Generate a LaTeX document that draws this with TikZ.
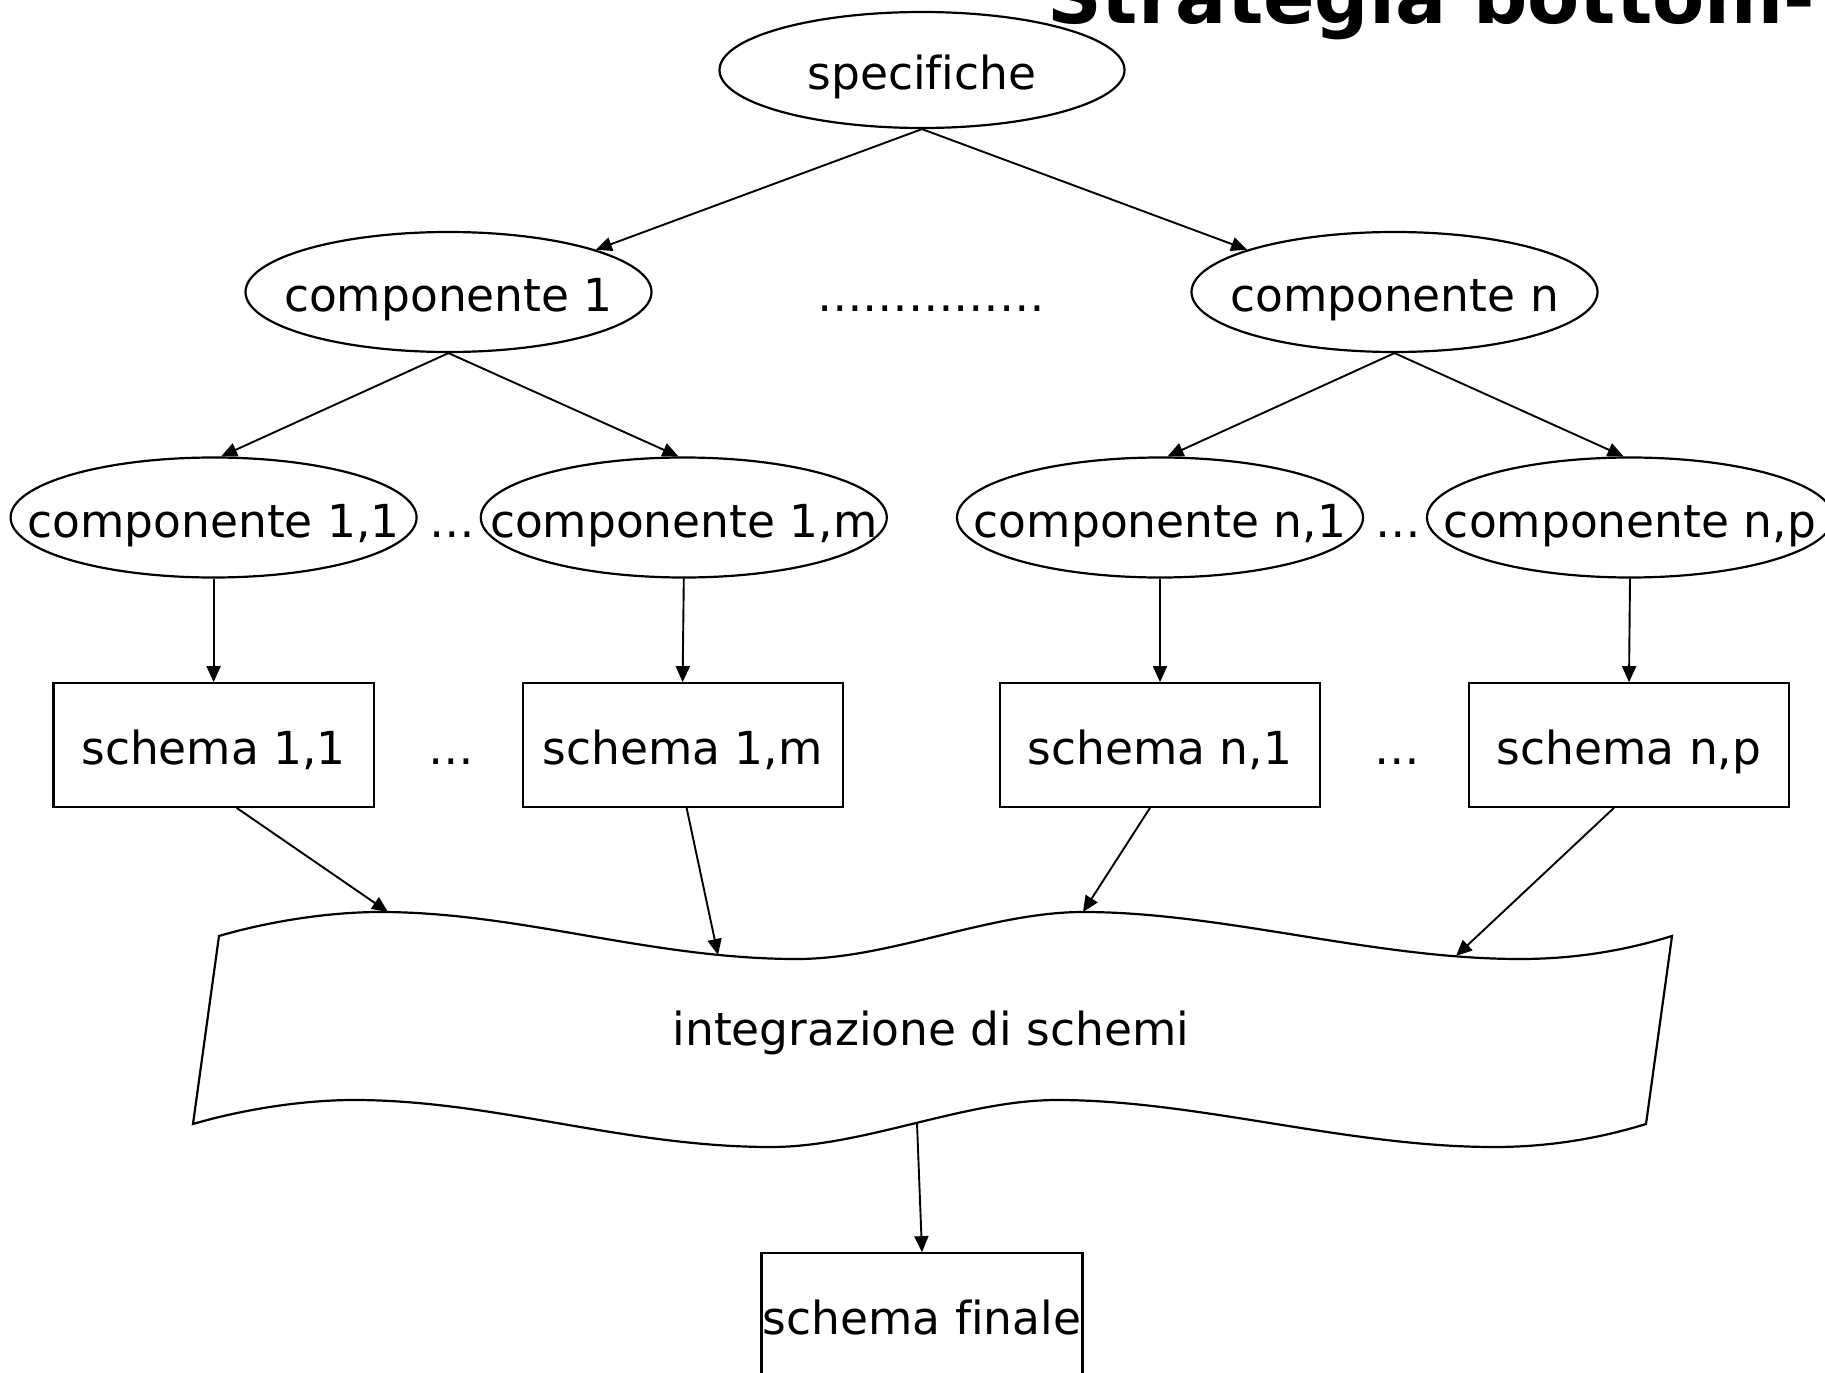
\documentclass[tikz,border=0pt]{standalone}
\usepackage{fontspec}
\setmainfont{DejaVu Sans}[Ligatures=NoCommon]
\usetikzlibrary{arrows.meta,shapes.geometric}
\begin{document}
\begin{tikzpicture}[x=1bp,y=-1bp,
  every node/.style={font=\fontsize{45.5bp}{54bp}\selectfont, inner sep=0pt,
    text height=39bp, text depth=0bp},
  oval/.style={draw, ellipse, line width=2.2bp, minimum width=406bp, minimum height=120bp},
  box/.style={draw, rectangle, line width=2.2bp, minimum width=320bp, minimum height=123.5bp},
  link/.style={line width=1.9bp, -{Triangle[length=16bp,width=14bp]}},
  ghost/.style={text height=, text depth=}]
\useasboundingbox (0,0) rectangle (1825,1373);
\clip (0,0) rectangle (1825,1373);

% heading, partly off the page
\node[ghost, anchor=base west, font=\fontsize{76bp}{80bp}\selectfont\bfseries]
  (title) at (1047,24) {Strategia bottom-};

% requirements and first-level components
\node[oval, minimum width=405bp, minimum height=116bp] (spec) at (922,70) {\makebox[0pt]{specifiche}};
\node[oval] (c1) at (448.5,292) {\makebox[0pt]{componente 1}};
\node[oval] (cn) at (1394.5,292) {\makebox[0pt]{componente n}};
\node (dtop) at (931,292) {\makebox[0pt]{……………}};

% second-level components
\node[oval] (c11) at (213.6,517.5) {\makebox[0pt]{componente 1,1}};
\node[oval] (c1m) at (683.8,517.5) {\makebox[0pt]{componente 1,m}};
\node[oval] (cn1) at (1160,517.5) {\makebox[0pt]{componente n,1}};
\node[oval] (cnp) at (1630,517.5) {\makebox[0pt]{componente n,p}};
\node (dmid1) at (452,517.5) {…};
\node (dmid2) at (1398,517.5) {…};

% partial schemas
\node[box] (s11) at (213.6,745) {schema 1,1};
\node[box] (s1m) at (682.6,745) {schema 1,m};
\node[box] (sn1) at (1160,745) {schema n,1};
\node[box] (snp) at (1629,745) {schema n,p};
\node (dlow1) at (451,745) {…};
\node (dlow2) at (1397,745) {…};

% integration step: wavy banner
\draw[line width=2.2bp] (219,936) .. controls (270,921) and (330,912) .. (380,912)
  .. controls (520,912) and (650,959) .. (797,959)
  .. controls (890,959) and (990,912) .. (1083,912)
  .. controls (1223,912) and (1373,959) .. (1520,959)
  .. controls (1570,959) and (1620,952) .. (1672,936)
  -- (1646,1124)
  .. controls (1594,1140) and (1544,1147) .. (1494,1147)
  .. controls (1347,1147) and (1197,1100) .. (1057,1100)
  .. controls (964,1100) and (864,1147) .. (771,1147)
  .. controls (624,1147) and (494,1100) .. (354,1100)
  .. controls (304,1100) and (244,1109) .. (193,1124)
  -- cycle;
\node[ghost, anchor=base] (integ) at (931,1045) {integrazione di schemi};
\coordinate (w1) at (388,912);
\coordinate (w2) at (718,955);
\coordinate (w3) at (1083,912);
\coordinate (w4) at (1456,956);
\coordinate (wb) at (917,1123);

% final schema
\node[box, minimum width=321bp] (fin) at (922,1315) {schema finale};

% connectors
\draw[link] (spec.south) -- (c1.16);
\draw[link] (spec.south) -- (cn.164);
\draw[link] (c1.south) -- (c11.83);
\draw[link] (c1.south) -- (c1m.95);
\draw[link] (cn.south) -- (cn1.83);
\draw[link] (cn.south) -- (cnp.96);
\draw[link] (c11.south) -- (s11.north);
\draw[link] (c1m.south) -- (s1m.north);
\draw[link] (cn1.south) -- (sn1.north);
\draw[link] (cnp.south) -- (snp.north);
\draw[link] ([xshift=23bp]s11.south) -- (w1);
\draw[link] ([xshift=4bp]s1m.south) -- (w2);
\draw[link] ([xshift=-10bp]sn1.south) -- (w3);
\draw[link] ([xshift=-15bp]snp.south) -- (w4);
\draw[link] (wb) -- (fin.north);
\end{tikzpicture}
\end{document}
